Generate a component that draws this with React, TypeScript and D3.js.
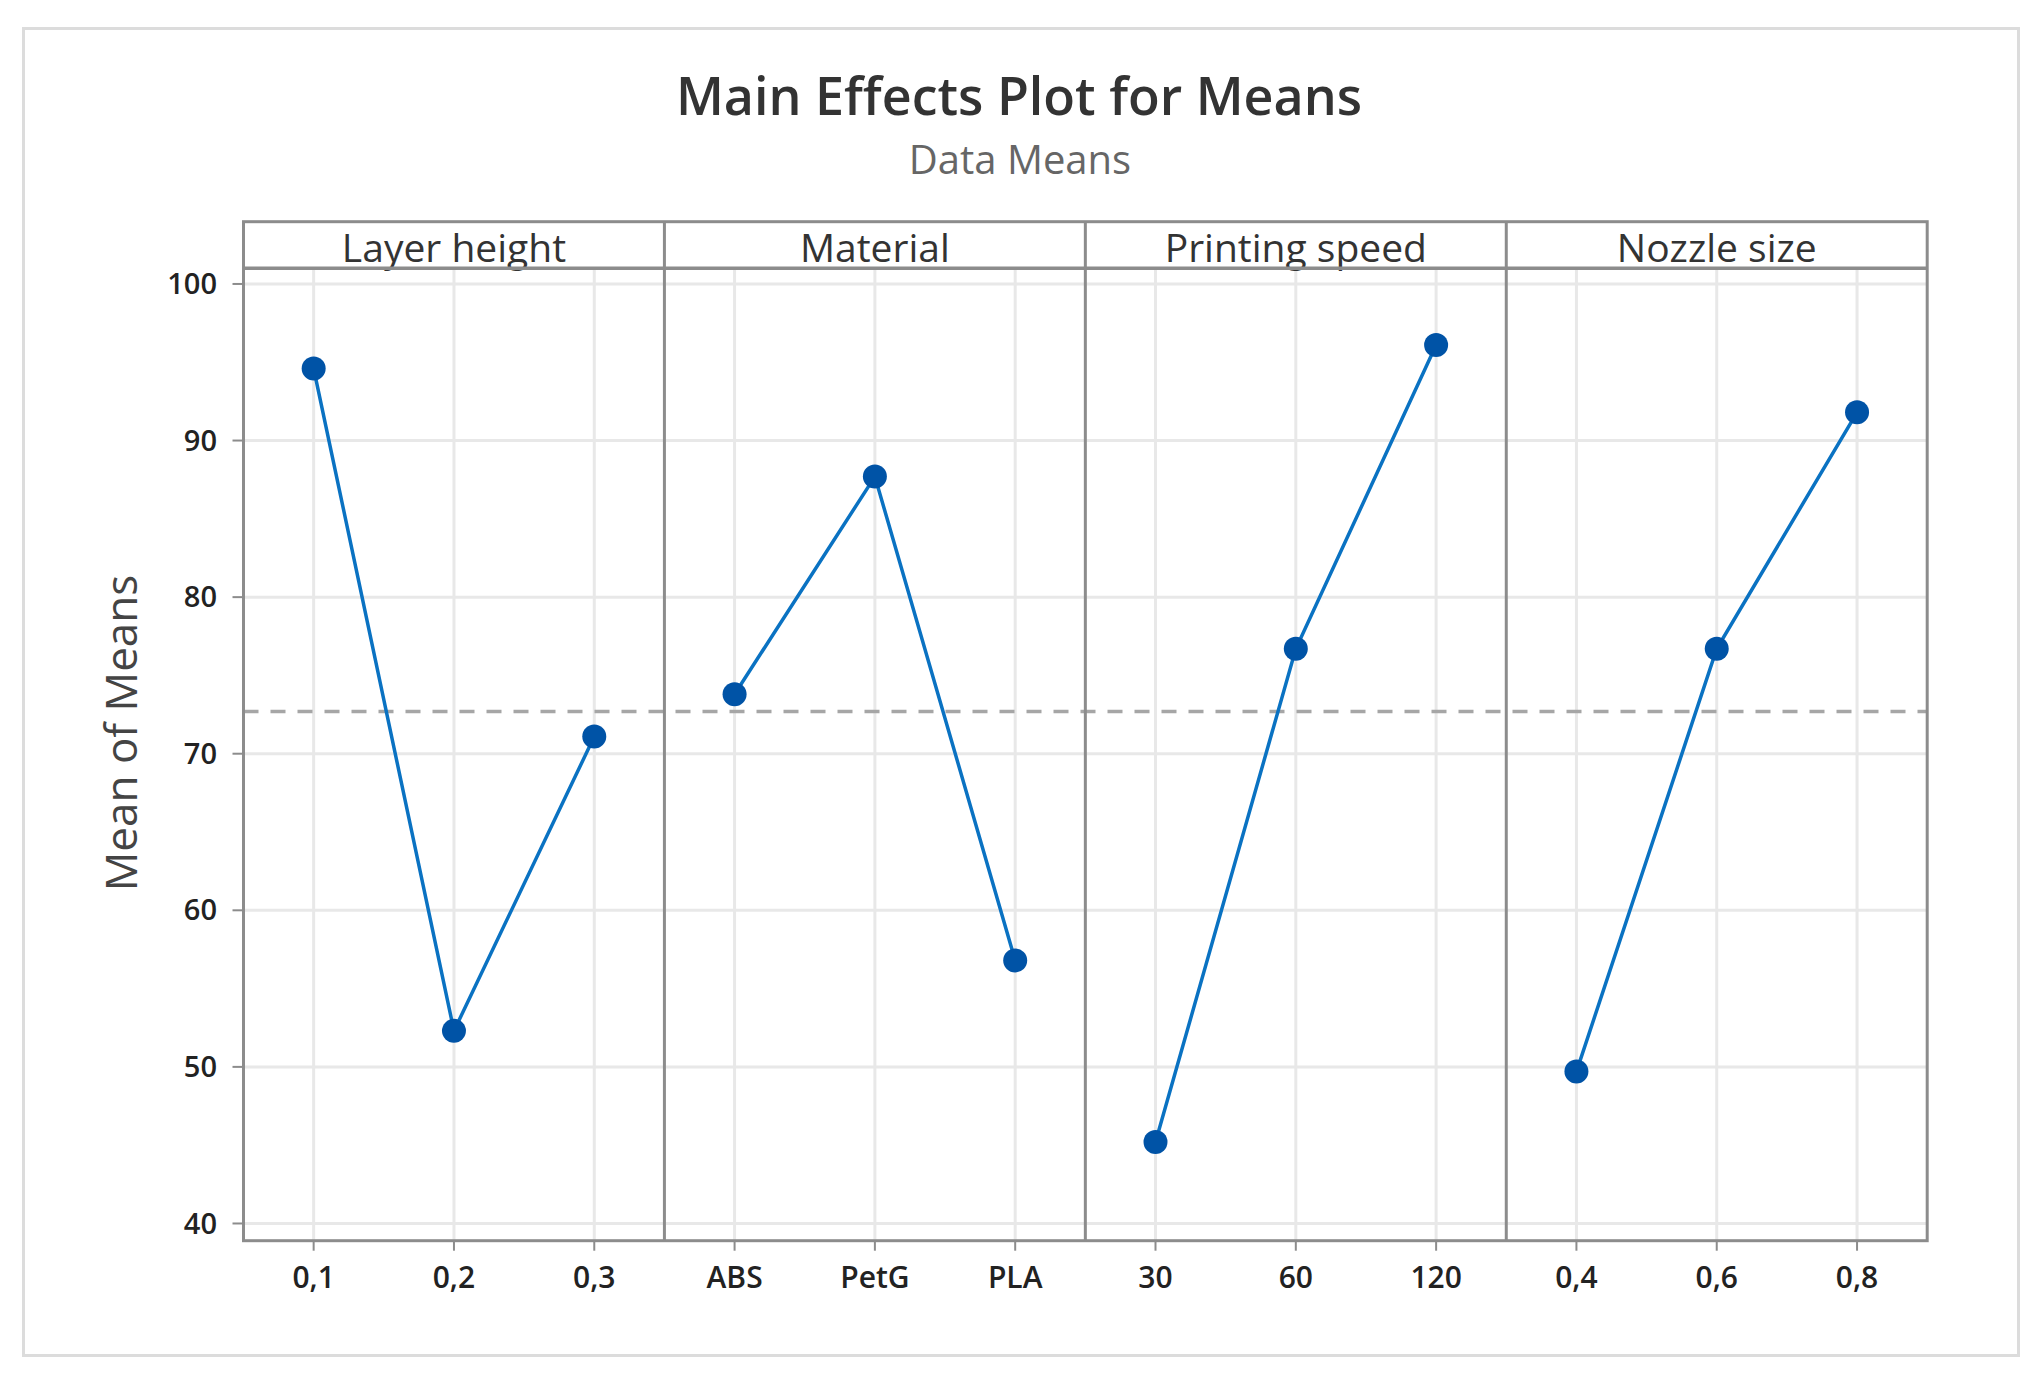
import React from "react";
import * as d3 from "d3";

// ---- Data ----
const factors = ["Layer height", "Material", "Printing speed", "Nozzle size"];
const layerLevels = ["0,1", "0,2", "0,3"];
const layerMeans = [94.6, 52.3, 71.1];
const materialLevels = ["ABS", "PetG", "PLA"];
const materialMeans = [73.8, 87.7, 56.8];
const speedLevels = ["30", "60", "120"];
const speedMeans = [45.2, 76.7, 96.1];
const nozzleLevels = ["0,4", "0,6", "0,8"];
const nozzleMeans = [49.7, 76.7, 91.8];
const grandMean = 72.7;
const yTicks = [40, 50, 60, 70, 80, 90, 100];
const yDomain = [38.9, 101];

const title = "Main Effects Plot for Means";
const subtitle = "Data Means";
const yLabel = "Mean of Means";

const FONT = "'Open Sans', 'Noto Sans', sans-serif";

export default function App() {
  const W = 2040;
  const H = 1382;
  const left = 243.5;
  const right = 1927.2;
  const headerTop = 221.7;
  const top = 268.3;
  const bottom = 1240.7;

  const panels = [
    { name: factors[0], levels: layerLevels, means: layerMeans },
    { name: factors[1], levels: materialLevels, means: materialMeans },
    { name: factors[2], levels: speedLevels, means: speedMeans },
    { name: factors[3], levels: nozzleLevels, means: nozzleMeans },
  ];

  const band = d3.scaleBand<string>().domain(factors).range([left, right]).padding(0);
  const y = d3.scaleLinear().domain(yDomain).range([bottom, top]);

  const gridColor = "#e8e8e8";
  const frameColor = "#8c8c8c";
  const lineColor = "#0a72c2";
  const dotColor = "#0053a6";

  return (
    <svg
      width={W}
      height={H}
      style={{ position: "absolute", left: 0, top: 0, background: "#fff" }}
      fontFamily={FONT}
    >
      <rect x={0} y={0} width={W} height={H} fill="#fff" />
      <rect x={23.5} y={28.5} width={1995} height={1327} fill="#fff" stroke="#dcdcdc" strokeWidth={3} />

      {/* Title */}
      <text x={1019} y={115} textAnchor="middle" fontSize={52} fontWeight={600} fill="#333">
        {title}
      </text>
      <text x={1020} y={174} textAnchor="middle" fontSize={40} fill="#666">
        {subtitle}
      </text>

      {/* horizontal grid */}
      {yTicks.map((t) => (
        <line key={"hg" + t} x1={left} x2={right} y1={y(t)} y2={y(t)} stroke={gridColor} strokeWidth={3} />
      ))}

      {/* panels */}
      {panels.map((p) => {
        const x0 = band(p.name)!;
        const x1 = x0 + band.bandwidth();
        const xs = d3.scalePoint<string>().domain(p.levels).range([x0, x1]).padding(0.5);
        return (
          <g key={p.name}>
            {p.levels.map((l) => (
              <line key={"vg" + l} x1={xs(l)} x2={xs(l)} y1={top} y2={bottom} stroke={gridColor} strokeWidth={3} />
            ))}
            {p.levels.map((l) => (
              <line key={"xt" + l} x1={xs(l)} x2={xs(l)} y1={bottom} y2={bottom + 10} stroke={frameColor} strokeWidth={2} />
            ))}
            {p.levels.map((l) => (
              <text key={"xl" + l} x={xs(l)} y={1288} textAnchor="middle" fontSize={30} fontWeight={600} fill="#222">
                {l}
              </text>
            ))}
            <text x={(x0 + x1) / 2} y={261.5} textAnchor="middle" fontSize={39} fill="#333">
              {p.name}
            </text>
          </g>
        );
      })}

      {/* grand mean reference line */}
      <line
        x1={left}
        x2={right}
        y1={y(grandMean)}
        y2={y(grandMean)}
        stroke="#a6a6a6"
        strokeWidth={3.5}
        strokeDasharray="15 12"
      />

      {/* lines & markers */}
      {panels.map((p) => {
        const x0 = band(p.name)!;
        const x1 = x0 + band.bandwidth();
        const xs = d3.scalePoint<string>().domain(p.levels).range([x0, x1]).padding(0.5);
        const pts: [number, number][] = p.levels.map((l, i) => [xs(l)!, y(p.means[i])]);
        const path = d3.line()(pts) || "";
        return (
          <g key={"s" + p.name}>
            <path d={path} fill="none" stroke={lineColor} strokeWidth={3.5} />
            {pts.map((pt, i) => (
              <circle key={i} cx={pt[0]} cy={pt[1]} r={12} fill={dotColor} />
            ))}
          </g>
        );
      })}

      {/* frame */}
      <rect x={left} y={headerTop} width={right - left} height={bottom - headerTop} fill="none" stroke={frameColor} strokeWidth={3} />
      <line x1={left} x2={right} y1={top} y2={top} stroke={frameColor} strokeWidth={3.5} />
      {factors.slice(1).map((f) => (
        <line key={"d" + f} x1={band(f)} x2={band(f)} y1={headerTop} y2={bottom} stroke={frameColor} strokeWidth={3} />
      ))}

      {/* y axis ticks */}
      {yTicks.map((t) => (
        <g key={"yt" + t}>
          <line x1={left - 11} x2={left} y1={y(t)} y2={y(t)} stroke={frameColor} strokeWidth={2} />
          <text x={217} y={y(t)} dy="0.35em" textAnchor="end" fontSize={29} fontWeight={600} fill="#222">
            {t}
          </text>
        </g>
      ))}

      <text
        transform={`translate(137, 733) rotate(-90)`}
        textAnchor="middle"
        fontSize={44}
        fill="#444"
      >
        {yLabel}
      </text>
    </svg>
  );
}
